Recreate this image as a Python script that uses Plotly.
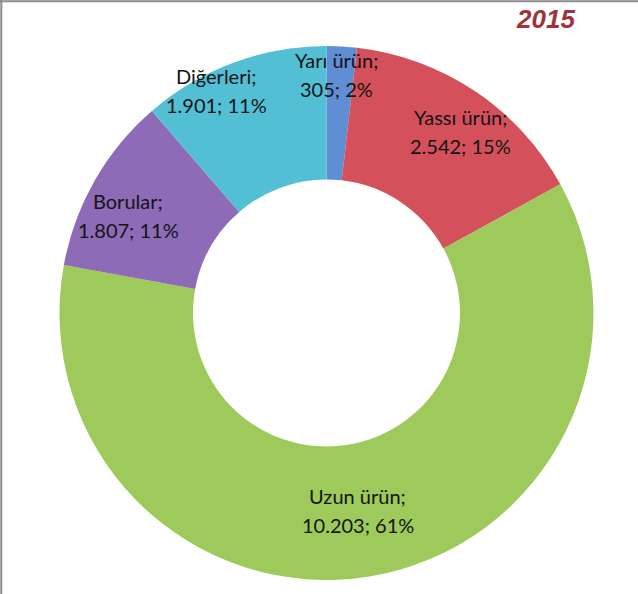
import plotly.graph_objects as go

categories = ["Yarı ürün", "Yassı ürün", "Uzun ürün", "Borular", "Diğerleri"]
values = [305, 2542, 10203, 1807, 1901]
colors = ["#5F8ED4", "#D4505A", "#9DCA5A", "#8E6BB6", "#53BFD4"]
year = "2015"

# label anchor points (paper coords), same order as categories
label_pos = [(0.528, 0.875), (0.722, 0.778), (0.561, 0.140), (0.201, 0.638), (0.339, 0.848)]

total = sum(values)

fig = go.Figure(
    go.Pie(
        labels=categories,
        values=values,
        hole=0.5,
        sort=False,
        direction="clockwise",
        rotation=0,
        marker=dict(colors=colors, line=dict(width=0)),
        textinfo="none",
        hoverinfo="label+value+percent",
        showlegend=False,
        domain=dict(x=[0.0933, 0.9302], y=[0.0236, 0.9226]),
    )
)

annotations = []
for cat, v, (x, y) in zip(categories, values, label_pos):
    num = f"{v:,}".replace(",", ".")
    pct = round(v / total * 100)
    for line, shift in [(f"{cat};", 14.5), (f"{num}; {pct}%", -14.5)]:
        annotations.append(dict(
            text=line, x=x, y=y, xref="paper", yref="paper",
            xanchor="center", yanchor="middle",
            yshift=shift, showarrow=False,
            font=dict(family="Lato", size=20, color="#141414"),
        ))

annotations.append(dict(
    text=f"<b><i>{year}</i></b>", x=545 / 638, y=1 - 19 / 594, xref="paper", yref="paper",
    xanchor="center", yanchor="middle", showarrow=False,
    font=dict(family="Liberation Sans", size=26, color="#A0323B"),
))

fig.update_layout(
    width=638,
    height=594,
    margin=dict(l=0, r=0, t=0, b=0),
    paper_bgcolor="white",
    plot_bgcolor="white",
    annotations=annotations,
    shapes=[
        dict(type="line", xref="paper", yref="paper", x0=0, x1=1, y0=0.998, y1=0.998,
             line=dict(color="#8a8a8a", width=2)),
        dict(type="line", xref="paper", yref="paper", x0=0.002, x1=0.002, y0=0, y1=1,
             line=dict(color="#8a8a8a", width=2)),
    ],
)

fig.write_html("out.html", config={"displayModeBar": False},
               post_script="document.body.style.margin='0';")
